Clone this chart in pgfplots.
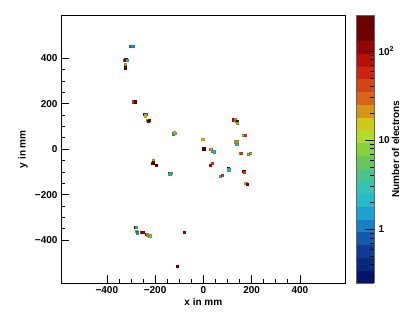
\documentclass[border=0pt]{standalone}
\usepackage{pgfplots}
\pgfplotsset{compat=1.18}
\usepackage{pgfplotstable}
\usepackage{fontspec}
\setmainfont{Liberation Sans}

\pgfplotstableread{
x y z
-302 450 1.0
-292 450 1.4
-326 389 40
-320 392 100
-313 389 3
-323 373 8
-323 365 20
-323 357 200
-290 208 40
-282 208 150
-244 152 100
-236 152 45
-240 146 10
-230 127 8
-222 127 100
-226 122 200
-124 67 1.5
-116 70 9
-119 74 13
-2 42 13
0 0 240
4 0 180
32 -2 20
39 -11 3
45 -12 2.5
126 128 80
133 128 20
138 121 30
141 120 200
141 114 9
168 60 8
174 61 40
134 32 10
140 32 20
139 19 2.5
153 -18 20
158 -18 40
188 -24 2.5
194 -20 20
37 -63 40
30 -72 70
103 -86 150
106 -92 2.5
72 -120 2.5
78 -116 40
168 -98 200
172 -102 40
174 -150 14
180 -150 18
183 -156 150
-208 -52 9
-208 -58 100
-209 -63 200
-193 -72 150
-140 -108 200
-134 -106 20
-138 -112 2.5
-282 -346 200
-276 -346 2.5
-276 -362 9
-274 -367 40
-272 -370 1.5
-256 -366 40
-250 -366 100
-237 -376 100
-232 -377 20
-222 -384 2.5
-218 -382 8
-77 -368 120
-108 -515 150
}\bins

\begin{document}
\fontsize{10.04}{12}\selectfont\bfseries
\begin{tikzpicture}
\begin{axis}[
  scale only axis, width=284.7bp, height=268.3bp,
  xmin=-590, xmax=590, ymin=-590, ymax=590,
  xtick={-400,-200,0,200,400}, xticklabels={−400,−200,0,200,400},
  ytick={-400,-200,0,200,400}, yticklabels={−400,−200,0,200,400},
  minor x tick num=3, minor y tick num=3,
  tick align=inside, xtick pos=bottom, ytick pos=left,
  major tick length=8bp, minor tick length=4bp,
  tick style={black, line width=0.6bp},
  axis line style={black, line width=0.7bp},
  xlabel={x in mm}, ylabel={y in mm},
  xlabel style={at={([yshift=-18.4bp]axis description cs:0.5,0)}, anchor=center},
  ylabel style={at={([xshift=-38bp]axis description cs:0,0.5)}, anchor=center},
  label style={font=\fontsize{10.04}{12}\selectfont\bfseries},
  tick label style={font=\fontsize{10.04}{12}\selectfont\bfseries},
  colormap={rootpal}{
    rgb255=(5,20,105) rgb255=(10,40,125) rgb255=(15,60,145) rgb255=(20,90,170)
    rgb255=(25,125,200) rgb255=(30,160,210) rgb255=(40,185,205) rgb255=(50,195,180)
    rgb255=(75,195,140) rgb255=(100,200,90) rgb255=(135,210,60) rgb255=(175,220,40)
    rgb255=(205,200,25) rgb255=(210,150,25) rgb255=(215,100,25) rgb255=(210,70,20)
    rgb255=(205,35,15) rgb255=(185,15,10) rgb255=(150,5,5) rgb255=(110,0,0)
    rgb255=(110,0,0)},
  colormap access=piecewise constant,
  point meta min=-0.607, point meta max=2.405,
  colorbar,
  colorbar style={
    width=18bp,
    at={(parent axis.north east)}, anchor=north west, xshift=1.8bp,
    ytick={0,1,2}, yticklabels={1,10,10\textsuperscript{2}},
    minor ytick={-0.5229,-0.3979,-0.3010,-0.2218,-0.1549,-0.0969,-0.0458,
      0.3010,0.4771,0.6021,0.6990,0.7782,0.8451,0.9031,0.9542,
      1.3010,1.4771,1.6021,1.6990,1.7782,1.8451,1.9031,1.9542,2.3010},
    ytick pos=right, yticklabel pos=right, tick align=inside,
    major tick length=9bp, minor tick length=4.5bp,
    tick style={black, line width=0.6bp},
    axis line style={black!60, line width=0.5bp},
    yticklabel style={xshift=1bp, font=\fontsize{10.04}{12}\selectfont\bfseries},
    ylabel={Number of electrons},
    ylabel style={at={([xshift=21.5bp]axis description cs:1,0.5)}, anchor=center,
      font=\fontsize{10.04}{12}\selectfont\bfseries},
  },
]
\addplot[scatter, only marks, mark=square*, mark size=1.15bp, line width=0pt,
  point meta={log10(\thisrow{z})}] table[x=x, y=y] {\bins};
\end{axis}
\pgfresetboundingbox
\path (-61bp,-31.7bp) rectangle (346bp,283.3bp);
\end{tikzpicture}
\end{document}
